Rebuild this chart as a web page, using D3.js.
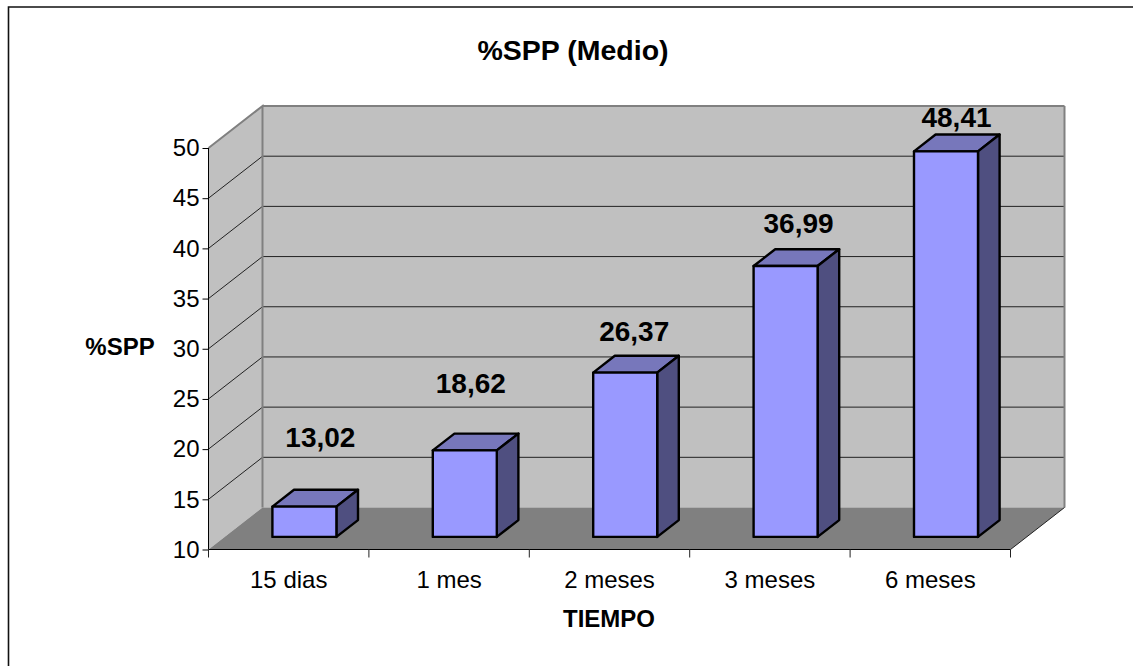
<!DOCTYPE html>
<html>
<head>
<meta charset="utf-8">
<script src="https://cdn.jsdelivr.net/npm/d3@7"></script>
<style>
    html, body { margin: 0; padding: 0; background: #fff; }
    text { font-family: "Liberation Sans", Arial, sans-serif; fill: #000; }
</style>
</head>
<body>
<script>
const categories = ["15 dias", "1 mes", "2 meses", "3 meses", "6 meses"];
const values = [13.02, 18.62, 26.37, 36.99, 48.41];
const valueLabels = ["13,02", "18,62", "26,37", "36,99", "48,41"];
const yTicks = [10, 15, 20, 25, 30, 35, 40, 45, 50];

const w = 1133, h = 666;

const svg = d3.select("body").append("svg")
    .attr("width", w)
    .attr("height", h)
    .style("display", "block");

// frame, only top and left edges are inside the picture
svg.append("path")
    .attr("d", "M8.5,666V7H1133")
    .attr("fill", "none")
    .attr("stroke", "#111")
    .attr("stroke-width", 1.6);

const x = d3.scaleBand().domain(categories).range([208.5, 1010.5]);
const y = d3.scaleLinear().domain([10, 50]).range([549.5, 148]);

const wallDx = 54, wallDy = -42;   // depth of the 3d box
const barOff = 0.3, barDepth = 0.4; // bar position inside the depth, fraction

const poly = (pts) => pts.map(p => p.join(",")).join(" ");

// side wall
svg.append("polygon")
    .attr("points", poly([[x.range()[0], y(10)], [x.range()[0], y(50)],
        [x.range()[0] + wallDx, y(50) + wallDy], [x.range()[0] + wallDx, y(10) + wallDy]]))
    .attr("fill", "#c0c0c0");
// back wall
svg.append("rect")
    .attr("x", x.range()[0] + wallDx).attr("y", y(50) + wallDy)
    .attr("width", x.range()[1] - x.range()[0])
    .attr("height", y(10) - y(50))
    .attr("fill", "#c0c0c0");
// floor
svg.append("polygon")
    .attr("points", poly([[x.range()[0], y(10)], [x.range()[1], y(10)],
        [x.range()[1] + wallDx, y(10) + wallDy], [x.range()[0] + wallDx, y(10) + wallDy]]))
    .attr("fill", "#808080");

// gridlines on both walls
const grid = svg.append("g");
yTicks.slice(1, -1).forEach(t => {
    grid.append("polyline")
        .attr("points", poly([[x.range()[0], y(t)], [x.range()[0] + wallDx, y(t) + wallDy],
            [x.range()[1] + wallDx, y(t) + wallDy]]))
        .attr("fill", "none")
        .attr("stroke", "#222")
        .attr("stroke-width", 1);
});
grid.append("polyline")
    .attr("points", poly([[x.range()[1] + wallDx, y(50) + wallDy], [x.range()[0] + wallDx, y(50) + wallDy]]))
    .attr("fill", "none").attr("stroke", "#808080").attr("stroke-width", 2);

// wall edges
svg.append("polyline")
    .attr("points", poly([[x.range()[0], y(50)], [x.range()[0] + wallDx, y(50) + wallDy],
        [x.range()[0] + wallDx, y(10) + wallDy]]))
    .attr("fill", "none").attr("stroke", "#808080").attr("stroke-width", 2);
svg.append("polyline")
    .attr("points", poly([[x.range()[1] + wallDx, y(50) + wallDy], [x.range()[1] + wallDx, y(10) + wallDy]]))
    .attr("fill", "none").attr("stroke", "#808080").attr("stroke-width", 2);
svg.append("line")
    .attr("x1", x.range()[1]).attr("y1", y(10))
    .attr("x2", x.range()[1] + wallDx).attr("y2", y(10) + wallDy)
    .attr("stroke", "#222");

// bars
const barW = 64;
const bars = svg.append("g").selectAll("g").data(values).join("g");

const fx = (i) => x(categories[i]) + x.bandwidth() / 2 - barW / 2 + barOff * wallDx - 0.5;
const base = y(10) + barOff * wallDy;
const dx = barDepth * wallDx, dy = barDepth * wallDy;
const barTop = (v) => y(v) + barOff * wallDy;

bars.append("polygon") // top face
    .attr("points", (d, i) => poly([[fx(i), barTop(d)], [fx(i) + barW, barTop(d)],
        [fx(i) + barW + dx, barTop(d) + dy], [fx(i) + dx, barTop(d) + dy]]))
    .attr("fill", "#7777bb");
bars.append("polygon") // side face
    .attr("points", (d, i) => poly([[fx(i) + barW, barTop(d)], [fx(i) + barW + dx, barTop(d) + dy],
        [fx(i) + barW + dx, base + dy], [fx(i) + barW, base]]))
    .attr("fill", "#4f4f80");
bars.append("rect") // front face
    .attr("x", (d, i) => fx(i))
    .attr("y", d => barTop(d))
    .attr("width", barW)
    .attr("height", d => base - barTop(d))
    .attr("fill", "#9999ff");
bars.selectAll("polygon, rect")
    .attr("stroke", "#000")
    .attr("stroke-width", 2.4)
    .attr("stroke-linejoin", "round");

// axes
const yAxis = d3.axisLeft(y).tickValues(yTicks).tickSize(6).tickPadding(3);
svg.append("g")
    .attr("transform", `translate(${x.range()[0]},0)`)
    .call(yAxis)
    .attr("font-family", null)
    .call(g => g.select(".domain").attr("stroke", "#000").attr("d", `M0,${y(50)}V${y(10)}`))
    .call(g => g.selectAll(".tick text").attr("font-size", 24));

const xAxis = d3.axisBottom(x).tickSize(0).tickPadding(21);
svg.append("g")
    .attr("transform", `translate(0,${y(10)})`)
    .call(xAxis)
    .attr("font-family", null)
    .call(g => g.select(".domain").attr("stroke", "#000").attr("d", `M${x.range()[0]},0H${x.range()[1]}`))
    .call(g => g.selectAll(".tick text").attr("font-size", 24));

// category separators under the axis
svg.append("g").selectAll("line")
    .data(categories.concat("end"))
    .join("line")
    .attr("x1", (d, i) => i < categories.length ? x(d) : x.range()[1])
    .attr("x2", (d, i) => i < categories.length ? x(d) : x.range()[1])
    .attr("y1", y(10)).attr("y2", y(10) + 8)
    .attr("stroke", "#222");

// value labels, placed by hand in the original so each gets its own nudge
const labelDx = [16, 6, 9, 13, 10.5];
const labelDy = [-59.5, -57, -32, -33, -24];
svg.append("g").selectAll("text")
    .data(values)
    .join("text")
    .attr("x", (d, i) => fx(i) + barW / 2 + labelDx[i])
    .attr("y", (d, i) => barTop(d) + labelDy[i])
    .attr("text-anchor", "middle")
    .attr("font-size", 28)
    .attr("font-weight", "bold")
    .text((d, i) => valueLabels[i]);

// titles
svg.append("text").attr("x", 573).attr("y", 59.5)
    .attr("text-anchor", "middle").attr("font-size", 28.5).attr("font-weight", "bold").text("%SPP (Medio)");
svg.append("text").attr("x", 120).attr("y", 354.5)
    .attr("text-anchor", "middle").attr("font-size", 24).attr("font-weight", "bold").text("%SPP");
svg.append("text").attr("x", 609).attr("y", 627)
    .attr("text-anchor", "middle").attr("font-size", 24).attr("font-weight", "bold").text("TIEMPO");
</script>
</body>
</html>
